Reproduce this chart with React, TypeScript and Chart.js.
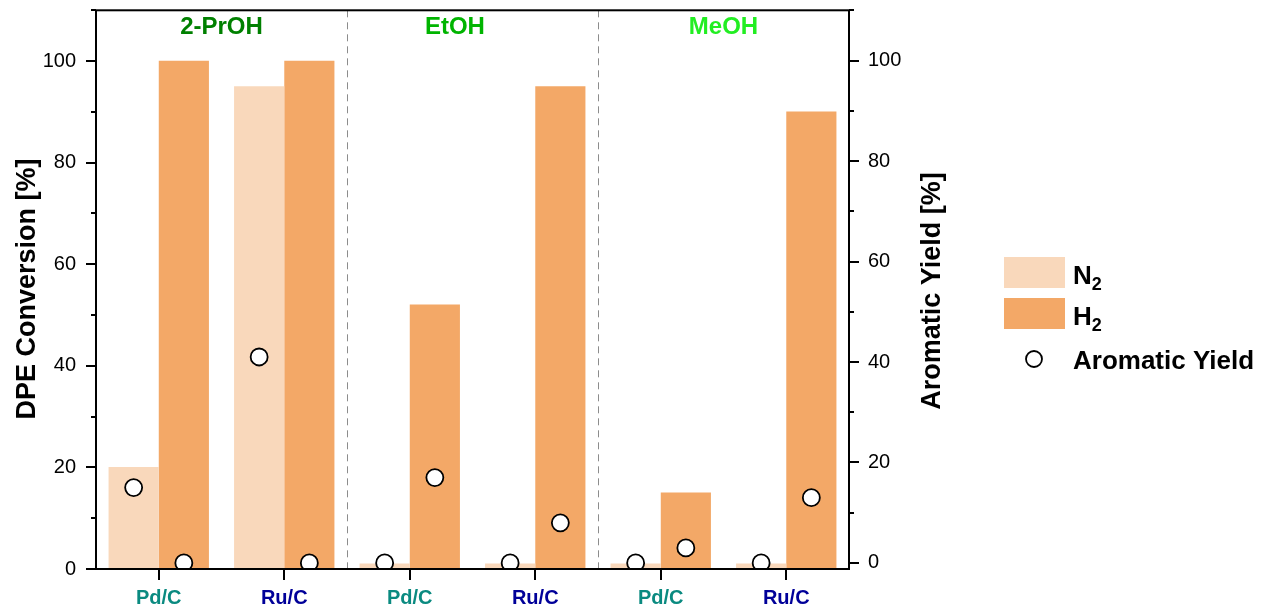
import React, { useEffect, useRef } from "react";
import { Chart, registerables } from "chart.js";
Chart.register(...registerables);

// ---------- data ----------
const categories = ["Pd/C", "Ru/C", "Pd/C", "Ru/C", "Pd/C", "Ru/C"];
const solvents = ["2-PrOH", "EtOH", "MeOH"];
const conversionN2 = [20, 95, 1, 1, 1, 1];
const conversionH2 = [100, 100, 52, 95, 15, 90];
const yieldN2 = [15, 41, 0, 0, 0, 0];
const yieldH2 = [0, 0, 17, 8, 3, 13];
const leftTickLabels = [0, 20, 40, 60, 80, 100];
const rightTickLabels = [0, 20, 40, 60, 80, 100];
const axisTickValues = [0, 10, 20, 30, 40, 50, 60, 70, 80, 90, 100, 110];

// ---------- style ----------
const FONT = "'Liberation Sans', Arial, Helvetica, sans-serif";
const N2_COLOR = "#f9d8bb";
const H2_COLOR = "#f3a867";
const CAT_COLORS = ["#0a8a80", "#000099"];
const SOLVENT_COLORS = ["#008000", "#00b400", "#22ee22"];
const SOLVENT_POS = [0.5, 2.36, 4.5];
const BAR_OFFSET = 0.2;

const overlayPlugin = {
  id: "overlay",
  beforeDatasetsDraw(chart: any) {
    const { ctx, chartArea: a, scales } = chart;
    const x = scales.x;
    ctx.save();
    ctx.strokeStyle = "#8c8c8c";
    ctx.lineWidth = 1;
    ctx.setLineDash([7, 5]);
    for (let g = 1; g < solvents.length; g++) {
      const px = Math.round((x.getPixelForTick(2 * g - 1) + x.getPixelForTick(2 * g)) / 2) + 0.5;
      ctx.beginPath();
      ctx.moveTo(px, a.top);
      ctx.lineTo(px, a.bottom);
      ctx.stroke();
    }
    ctx.restore();
  },
  afterDatasetsDraw(chart: any) {
    const { ctx, chartArea: a, scales } = chart;
    const { x, x2, y, y2 } = scales;
    ctx.save();
    // frame
    ctx.strokeStyle = "#000";
    ctx.lineWidth = 2;
    ctx.setLineDash([]);
    ctx.strokeRect(a.left, a.top, a.right - a.left, a.bottom - a.top);
    // ticks
    ctx.beginPath();
    axisTickValues.forEach((v) => {
      const py = Math.round(y.getPixelForValue(v));
      const len = v % 20 === 0 ? 10 : 5;
      ctx.moveTo(a.left, py);
      ctx.lineTo(a.left - len, py);
    });
    axisTickValues.forEach((v) => {
      const py = Math.round(y2.getPixelForValue(v));
      if (py < a.top - 1) return;
      const len = v % 20 === 0 ? 10 : 5;
      ctx.moveTo(a.right, py);
      ctx.lineTo(a.right + len, py);
    });
    for (let i = 0; i < categories.length; i++) {
      const px = Math.round(x.getPixelForTick(i));
      ctx.moveTo(px, a.bottom);
      ctx.lineTo(px, a.bottom + 11);
    }
    ctx.stroke();

    // solvent labels
    ctx.font = `bold 24px ${FONT}`;
    ctx.textAlign = "center";
    ctx.textBaseline = "alphabetic";
    solvents.forEach((s, i) => {
      ctx.fillStyle = SOLVENT_COLORS[i];
      ctx.fillText(s, x2.getPixelForValue(SOLVENT_POS[i]), 34);
    });

    // axis titles
    ctx.fillStyle = "#000";
    ctx.font = `bold 27px ${FONT}`;
    ctx.save();
    ctx.translate(35, 289);
    ctx.rotate(-Math.PI / 2);
    ctx.fillText("DPE Conversion [%]", 0, 0);
    ctx.restore();
    ctx.save();
    ctx.translate(940, 291);
    ctx.rotate(-Math.PI / 2);
    ctx.fillText("Aromatic Yield [%]", 0, 0);
    ctx.restore();

    // legend
    const lx = 1004, sw = 61, sh = 31, tx = 1073;
    const rows = [
      { top: 257, color: N2_COLOR, main: "N", sub: "2" },
      { top: 298, color: H2_COLOR, main: "H", sub: "2" },
    ];
    ctx.textAlign = "left";
    rows.forEach((r) => {
      ctx.fillStyle = r.color;
      ctx.fillRect(lx, r.top, sw, sh);
      ctx.fillStyle = "#000";
      ctx.font = `bold 26px ${FONT}`;
      const base = r.top + sh / 2 + 11;
      ctx.fillText(r.main, tx, base);
      const w = ctx.measureText(r.main).width;
      ctx.font = `bold 18px ${FONT}`;
      ctx.fillText(r.sub, tx + w, base + 6);
    });
    ctx.beginPath();
    ctx.arc(1034, 359, 8, 0, Math.PI * 2);
    ctx.fillStyle = "#fff";
    ctx.fill();
    ctx.lineWidth = 1.8;
    ctx.strokeStyle = "#000";
    ctx.stroke();
    ctx.fillStyle = "#000";
    ctx.font = `bold 26px ${FONT}`;
    ctx.fillText("Aromatic Yield", tx, 369);
    ctx.restore();
  },
};

const setTicks = (s: any) => {
  s.ticks = axisTickValues.filter((v) => v >= s.min && v <= s.max).map((v) => ({ value: v }));
};

export default function App() {
  const ref = useRef<HTMLCanvasElement>(null);
  useEffect(() => {
    if (!ref.current) return;
    const n2Bars = conversionN2.map((v, i) => ({ x: i - BAR_OFFSET, y: v }));
    const h2Bars = conversionH2.map((v, i) => ({ x: i + BAR_OFFSET, y: v }));
    const points: { x: number; y: number }[] = [];
    categories.forEach((_, i) => {
      points.push({ x: i - BAR_OFFSET, y: yieldN2[i] });
      points.push({ x: i + BAR_OFFSET, y: yieldH2[i] });
    });
    const barStyle = {
      borderWidth: 0,
      grouped: false,
      barPercentage: 1,
      categoryPercentage: 1,
      maxBarThickness: 49.5,
      xAxisID: "x2",
      yAxisID: "y",
      order: 2,
    };
    const chart = new Chart(ref.current, {
      type: "bar",
      data: {
        labels: categories,
        datasets: [
          { label: "N2", data: n2Bars, backgroundColor: N2_COLOR, ...barStyle } as any,
          { label: "H2", data: h2Bars, backgroundColor: H2_COLOR, ...barStyle } as any,
          {
            type: "scatter",
            label: "Aromatic Yield",
            data: points,
            xAxisID: "x2",
            yAxisID: "y2",
            pointRadius: 8.5,
            pointBorderWidth: 1.8,
            pointBorderColor: "#000",
            pointBackgroundColor: "#fff",
            showLine: false,
            order: 1,
          } as any,
        ],
      },
      options: {
        responsive: false,
        animation: false,
        events: [],
        layout: { padding: { top: 10, left: 0, right: 0, bottom: 0 } },
        plugins: { legend: { display: false }, tooltip: { enabled: false } },
        scales: {
          x: {
            type: "category",
            position: "bottom",
            offset: true,
            grid: { display: false, drawTicks: false },
            border: { display: false },
            ticks: {
              autoSkip: false,
              maxRotation: 0,
              padding: 17,
              font: { family: FONT, size: 20, weight: "bold" },
              color: (c: any) => CAT_COLORS[c.index % 2],
            },
            afterFit: (s: any) => {
              s.height = 38;
              s.paddingLeft = 0;
              s.paddingRight = 0;
            },
          },
          x2: {
            type: "linear",
            display: false,
            offset: false,
            min: -0.5,
            max: 5.5,
            afterBuildTicks: (s: any) => {
              s.ticks = [{ value: -0.5 }, { value: 5.5 }];
            },
          },
          y: {
            position: "left",
            min: 0,
            max: 110,
            grid: { display: false, drawTicks: false },
            border: { display: false },
            afterBuildTicks: setTicks,
            ticks: {
              padding: 20,
              color: "#000",
              font: { family: FONT, size: 20 },
              callback: (v: any) => (leftTickLabels.includes(v) ? String(v) : ""),
            },
            afterFit: (s: any) => {
              s.width = 96;
              s.paddingTop = 0;
              s.paddingBottom = 0;
            },
          },
          y2: {
            position: "right",
            min: -1.2,
            max: 110,
            grid: { display: false, drawTicks: false },
            border: { display: false },
            afterBuildTicks: setTicks,
            ticks: {
              padding: 19,
              color: "#000",
              font: { family: FONT, size: 20 },
              callback: (v: any) => (rightTickLabels.includes(v) ? String(v) : ""),
            },
            afterFit: (s: any) => {
              s.width = 413;
              s.paddingTop = 0;
              s.paddingBottom = 0;
            },
          },
        } as any,
      },
      plugins: [overlayPlugin],
    });
    return () => chart.destroy();
  }, []);
  return (
    <div style={{ position: "absolute", left: 0, top: 0, width: 1262, height: 607 }}>
      <canvas ref={ref} width={1262} height={607} />
    </div>
  );
}
